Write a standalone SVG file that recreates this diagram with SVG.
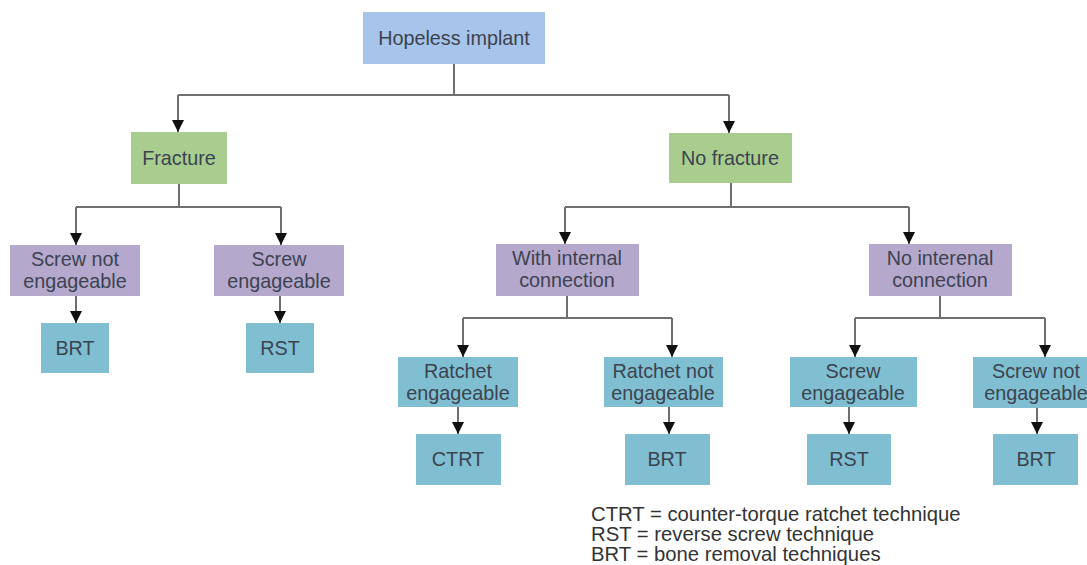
<svg xmlns="http://www.w3.org/2000/svg" width="1087" height="565" viewBox="0 0 1087 565">
<style>
.t{font-family:"Liberation Sans",Arial,sans-serif;font-size:19.8px;fill:#3c4350;text-anchor:middle}
.lg{font-family:"Liberation Sans",Arial,sans-serif;font-size:20.3px;fill:#333}
.blue{fill:#a7c4ea}.green{fill:#a9cd8e}.purple{fill:#b5a8cd}.teal{fill:#7fbfd1}
.c{fill:none;stroke:#6f6f6f;stroke-width:2}
</style>
<defs>
<marker id="ah" viewBox="0 0 12 12" refX="12" refY="6" markerWidth="12" markerHeight="12" markerUnits="userSpaceOnUse" orient="auto">
<path d="M0,0 L12,6 L0,12 Z" fill="#111"/>
</marker>
</defs>
<rect width="1087" height="565" fill="#fff"/>
<g id="connectors">
<path class="c" d="M454,64 V95"/>
<path class="c" d="M178,95 H729"/>
<path class="c" d="M178,95 V132" marker-end="url(#ah)"/>
<path class="c" d="M729,95 V133" marker-end="url(#ah)"/>
<path class="c" d="M179,184 V207 M76,207 H281 M731,183 V207 M565,207 H909"/>
<path class="c" d="M76,207 V245" marker-end="url(#ah)"/>
<path class="c" d="M281,207 V245" marker-end="url(#ah)"/>
<path class="c" d="M565,207 V244" marker-end="url(#ah)"/>
<path class="c" d="M909,207 V244" marker-end="url(#ah)"/>
<path class="c" d="M76,296 V323" marker-end="url(#ah)"/>
<path class="c" d="M280,296 V323" marker-end="url(#ah)"/>
<path class="c" d="M567,296 V318 M463,318 H672 M940,296 V318 M855,318 H1045"/>
<path class="c" d="M463,318 V357" marker-end="url(#ah)"/>
<path class="c" d="M672,318 V357" marker-end="url(#ah)"/>
<path class="c" d="M855,318 V357" marker-end="url(#ah)"/>
<path class="c" d="M1045,318 V357" marker-end="url(#ah)"/>
<path class="c" d="M458,407 V434" marker-end="url(#ah)"/>
<path class="c" d="M669,407 V434" marker-end="url(#ah)"/>
<path class="c" d="M849,407 V434" marker-end="url(#ah)"/>
<path class="c" d="M1037,408 V434" marker-end="url(#ah)"/>
</g>
<g id="hopeless"><rect class="blue" x="363" y="12" width="182" height="52"/><text class="t" x="454" y="45">Hopeless implant</text></g>
<g id="fracture"><rect class="green" x="131" y="132" width="96" height="52"/><text class="t" x="179" y="165">Fracture</text></g>
<g id="nofracture"><rect class="green" x="669" y="133" width="123" height="50"/><text class="t" x="730" y="165">No fracture</text></g>
<g id="screwnot1"><rect class="purple" x="10" y="245" width="130" height="51"/><text class="t" x="75" y="266">Screw not</text><text class="t" x="75" y="288">engageable</text></g>
<g id="screw1"><rect class="purple" x="214" y="245" width="130" height="51"/><text class="t" x="279" y="266">Screw</text><text class="t" x="279" y="288">engageable</text></g>
<g id="brt1"><rect class="teal" x="41" y="323" width="68" height="50"/><text class="t" x="75" y="355">BRT</text></g>
<g id="rst1"><rect class="teal" x="246" y="323" width="68" height="50"/><text class="t" x="280" y="355">RST</text></g>
<g id="withint"><rect class="purple" x="496" y="244" width="143" height="52"/><text class="t" x="567" y="265">With internal</text><text class="t" x="567" y="287">connection</text></g>
<g id="noint"><rect class="purple" x="869" y="244" width="143" height="52"/><text class="t" x="940" y="265">No interenal</text><text class="t" x="940" y="287">connection</text></g>
<g id="ratchet"><rect class="teal" x="398" y="357" width="120" height="50"/><text class="t" x="458" y="378">Ratchet</text><text class="t" x="458" y="400">engageable</text></g>
<g id="ratchetnot"><rect class="teal" x="604" y="357" width="119" height="50"/><text class="t" x="663" y="378">Ratchet not</text><text class="t" x="663" y="400">engageable</text></g>
<g id="screw2"><rect class="teal" x="790" y="357" width="127" height="50"/><text class="t" x="853" y="378">Screw</text><text class="t" x="853" y="400">engageable</text></g>
<g id="screwnot2"><rect class="teal" x="973" y="357" width="127" height="51"/><text class="t" x="1036" y="378">Screw not</text><text class="t" x="1036" y="400">engageable</text></g>
<g id="ctrt"><rect class="teal" x="416" y="434" width="85" height="51"/><text class="t" x="458" y="466">CTRT</text></g>
<g id="brt2"><rect class="teal" x="625" y="434" width="85" height="51"/><text class="t" x="667" y="466">BRT</text></g>
<g id="rst2"><rect class="teal" x="807" y="434" width="84" height="51"/><text class="t" x="849" y="466">RST</text></g>
<g id="brt3"><rect class="teal" x="993" y="434" width="85" height="51"/><text class="t" x="1036" y="466">BRT</text></g>
<g id="legend">
<text class="lg" x="591" y="521">CTRT = counter-torque ratchet technique</text>
<text class="lg" x="591" y="541">RST = reverse screw technique</text>
<text class="lg" x="591" y="561">BRT = bone removal techniques</text>
</g>
</svg>
